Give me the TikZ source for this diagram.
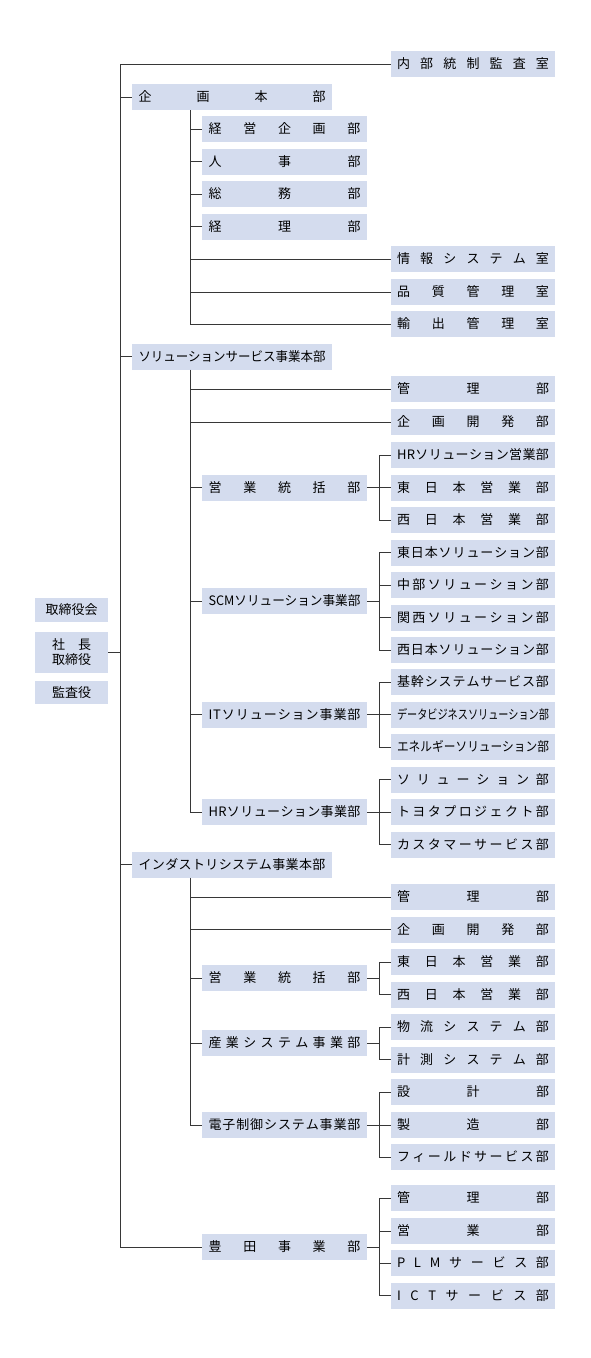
\documentclass[tikz,border=0pt]{standalone}
\usepackage{fontspec}
\setmainfont{Noto Sans CJK JP}
\definecolor{boxc}{RGB}{212,220,238}
\definecolor{linec}{RGB}{55,55,55}
\def\spreadchars#1{\spreadA#1\endspread}
\def\spreadA#1#2\endspread{#1\ifx\relax#2\relax\else\hfill\spreadA#2\endspread\fi}
\newsavebox\lblbox
\newlength\lblw
\newcommand\fitlbl[2]{%
  \sbox\lblbox{#2}\lblw=\wd\lblbox\relax
  \ifdim\lblw>#1pt\relax
    \pgfmathsetmacro\lblratio{#1/\lblw}%
    \edef\lbltmp{\noexpand\addfontfeature{FakeStretch=\lblratio}}%
    \hbox to #1pt{\lbltmp #2\hss}%
  \else
    \hbox to #1pt{\spreadchars{#2}}%
  \fi}
\newcommand\rl[1]{\fitlbl{152}{#1}}
\newcommand\tl[1]{\fitlbl{187}{#1}}
\tikzset{
  box/.style={fill=boxc, inner sep=0pt, minimum height=26pt, text height=11.4pt, text depth=1.6pt, font=\fontsize{13pt}{15pt}\selectfont},
  rbox/.style={box, minimum width=164pt},
  mbox/.style={box, minimum width=165pt},
  tbox/.style={box, minimum width=200pt},
  lbox/.style={box, minimum width=73pt, minimum height=24pt},
  conn/.style={draw=linec, line width=0.9pt},
}
\begin{document}
\begin{tikzpicture}[x=1pt,y=-1pt]
\useasboundingbox (0,0) rectangle (591,1358);
% left column
\node[lbox] (torishimari) at (71.5,610) {取締役会};
\node[lbox, minimum height=41pt, align=center, text height=, text depth=] (shacho) at (71.5,652.5) {社\hspace{1em}長\\[0pt]取締役};
\node[lbox, minimum height=23pt] (kansa) at (71.5,692.5) {監査役};
% top level
\node[tbox] (kikaku) at (232,97) {\tl{企画本部}};
\node[tbox] (sol) at (232,356.5) {\tl{ソリューションサービス事業本部}};
\node[tbox] (ind) at (232,864.5) {\tl{インダストリシステム事業本部}};
% level 2
\node[mbox] (keiei) at (284.5,129) {\rl{経営企画部}};
\node[mbox] (jinji) at (284.5,161.5) {\rl{人事部}};
\node[mbox] (somu) at (284.5,194) {\rl{総務部}};
\node[mbox] (keiri) at (284.5,226.5) {\rl{経理部}};
\node[mbox] (seigyo) at (284.5,487.5) {\rl{営業統括部}};
\node[mbox] (scm) at (284.5,601) {\rl{SCMソリューション事業部}};
\node[mbox] (it) at (284.5,714.5) {\rl{ITソリューション事業部}};
\node[mbox] (hr) at (284.5,812) {\rl{HRソリューション事業部}};
\node[mbox] (ieigyo) at (284.5,978) {\rl{営業統括部}};
\node[mbox] (sangyo) at (284.5,1043) {\rl{産業システム事業部}};
\node[mbox] (denshi) at (284.5,1125) {\rl{電子制御システム事業部}};
\node[mbox] (toyota) at (284.5,1247) {\rl{豊田事業部}};
% right column
\node[rbox] (naibu) at (473,64) {\rl{内部統制監査室}};
\node[rbox] (joho) at (473,259) {\rl{情報システム室}};
\node[rbox] (hinshitsu) at (473,292) {\rl{品質管理室}};
\node[rbox] (yushutsu) at (473,324) {\rl{輸出管理室}};
\node[rbox] (skanri) at (473,389) {\rl{管理部}};
\node[rbox] (skaihatsu) at (473,422) {\rl{企画開発部}};
\node[rbox] (shr) at (473,455) {\rl{HRソリューション営業部}};
\node[rbox] (seast) at (473,487.5) {\rl{東日本営業部}};
\node[rbox] (swest) at (473,520) {\rl{西日本営業部}};
\node[rbox] (scma) at (473,552.5) {\rl{東日本ソリューション部}};
\node[rbox] (scmb) at (473,585) {\rl{中部ソリューション部}};
\node[rbox] (scmc) at (473,617.5) {\rl{関西ソリューション部}};
\node[rbox] (scmd) at (473,650) {\rl{西日本ソリューション部}};
\node[rbox] (ita) at (473,682) {\rl{基幹システムサービス部}};
\node[rbox] (itb) at (473,714.5) {\rl{データビジネスソリューション部}};
\node[rbox] (itc) at (473,747) {\rl{エネルギーソリューション部}};
\node[rbox] (hra) at (473,779.5) {\rl{ソリューション部}};
\node[rbox] (hrb) at (473,812) {\rl{トヨタプロジェクト部}};
\node[rbox] (hrc) at (473,844.5) {\rl{カスタマーサービス部}};
\node[rbox] (ikanri) at (473,897) {\rl{管理部}};
\node[rbox] (ikaihatsu) at (473,929.5) {\rl{企画開発部}};
\node[rbox] (ieast) at (473,962) {\rl{東日本営業部}};
\node[rbox] (iwest) at (473,994.5) {\rl{西日本営業部}};
\node[rbox] (sanga) at (473,1027) {\rl{物流システム部}};
\node[rbox] (sangb) at (473,1059.5) {\rl{計測システム部}};
\node[rbox] (dena) at (473,1092) {\rl{設計部}};
\node[rbox] (denb) at (473,1125) {\rl{製造部}};
\node[rbox] (denc) at (473,1157) {\rl{フィールドサービス部}};
\node[rbox] (toya) at (473,1198) {\rl{管理部}};
\node[rbox] (toyb) at (473,1231) {\rl{営業部}};
\node[rbox] (toyc) at (473,1263) {\rl{PLMサービス部}};
\node[rbox] (toyd) at (473,1295.5) {\rl{ICTサービス部}};
% trunk coordinates
\coordinate (T) at (120.5,0);
\coordinate (A) at (190.5,0);
\coordinate (C) at (379,0);
% main trunk
\draw[conn] (naibu.west) -- (naibu.west -| T) -- (toyota.west -| T) -- (toyota.west);
\draw[conn] (kikaku.west -| T) -- (kikaku.west);
\draw[conn] (sol.west -| T) -- (sol.west);
\draw[conn] (ind.west -| T) -- (ind.west);
\draw[conn] (shacho.east) -- (shacho.east -| T);
% kikaku honbu
\draw[conn] (kikaku.south -| A) -- (yushutsu.west -| A) -- (yushutsu.west);
\foreach \n in {keiei,jinji,somu,keiri,joho,hinshitsu}
  \draw[conn] (\n.west -| A) -- (\n.west);
% solution service honbu
\draw[conn] (sol.south -| A) -- (hr.west -| A) -- (hr.west);
\foreach \n in {skanri,skaihatsu,seigyo,scm,it}
  \draw[conn] (\n.west -| A) -- (\n.west);
% industry system honbu
\draw[conn] (ind.south -| A) -- (denshi.west -| A) -- (denshi.west);
\foreach \n in {ikanri,ikaihatsu,ieigyo,sangyo}
  \draw[conn] (\n.west -| A) -- (\n.west);
% sub groups
\foreach \p/\a/\b/\mids in {seigyo/shr/swest/seast, scm/scma/scmd/{scmb,scmc}, it/ita/itc/itb, hr/hra/hrc/hrb, ieigyo/ieast/iwest/, sangyo/sanga/sangb/, denshi/dena/denc/denb, toyota/toya/toyd/{toyb,toyc}}{
  \draw[conn] (\p.east) -- (\p.east -| C);
  \draw[conn] (\a.west) -- (\a.west -| C) -- (\b.west -| C) -- (\b.west);
  \foreach \m in \mids { \draw[conn] (\m.west -| C) -- (\m.west); }
}
\end{tikzpicture}
\end{document}
